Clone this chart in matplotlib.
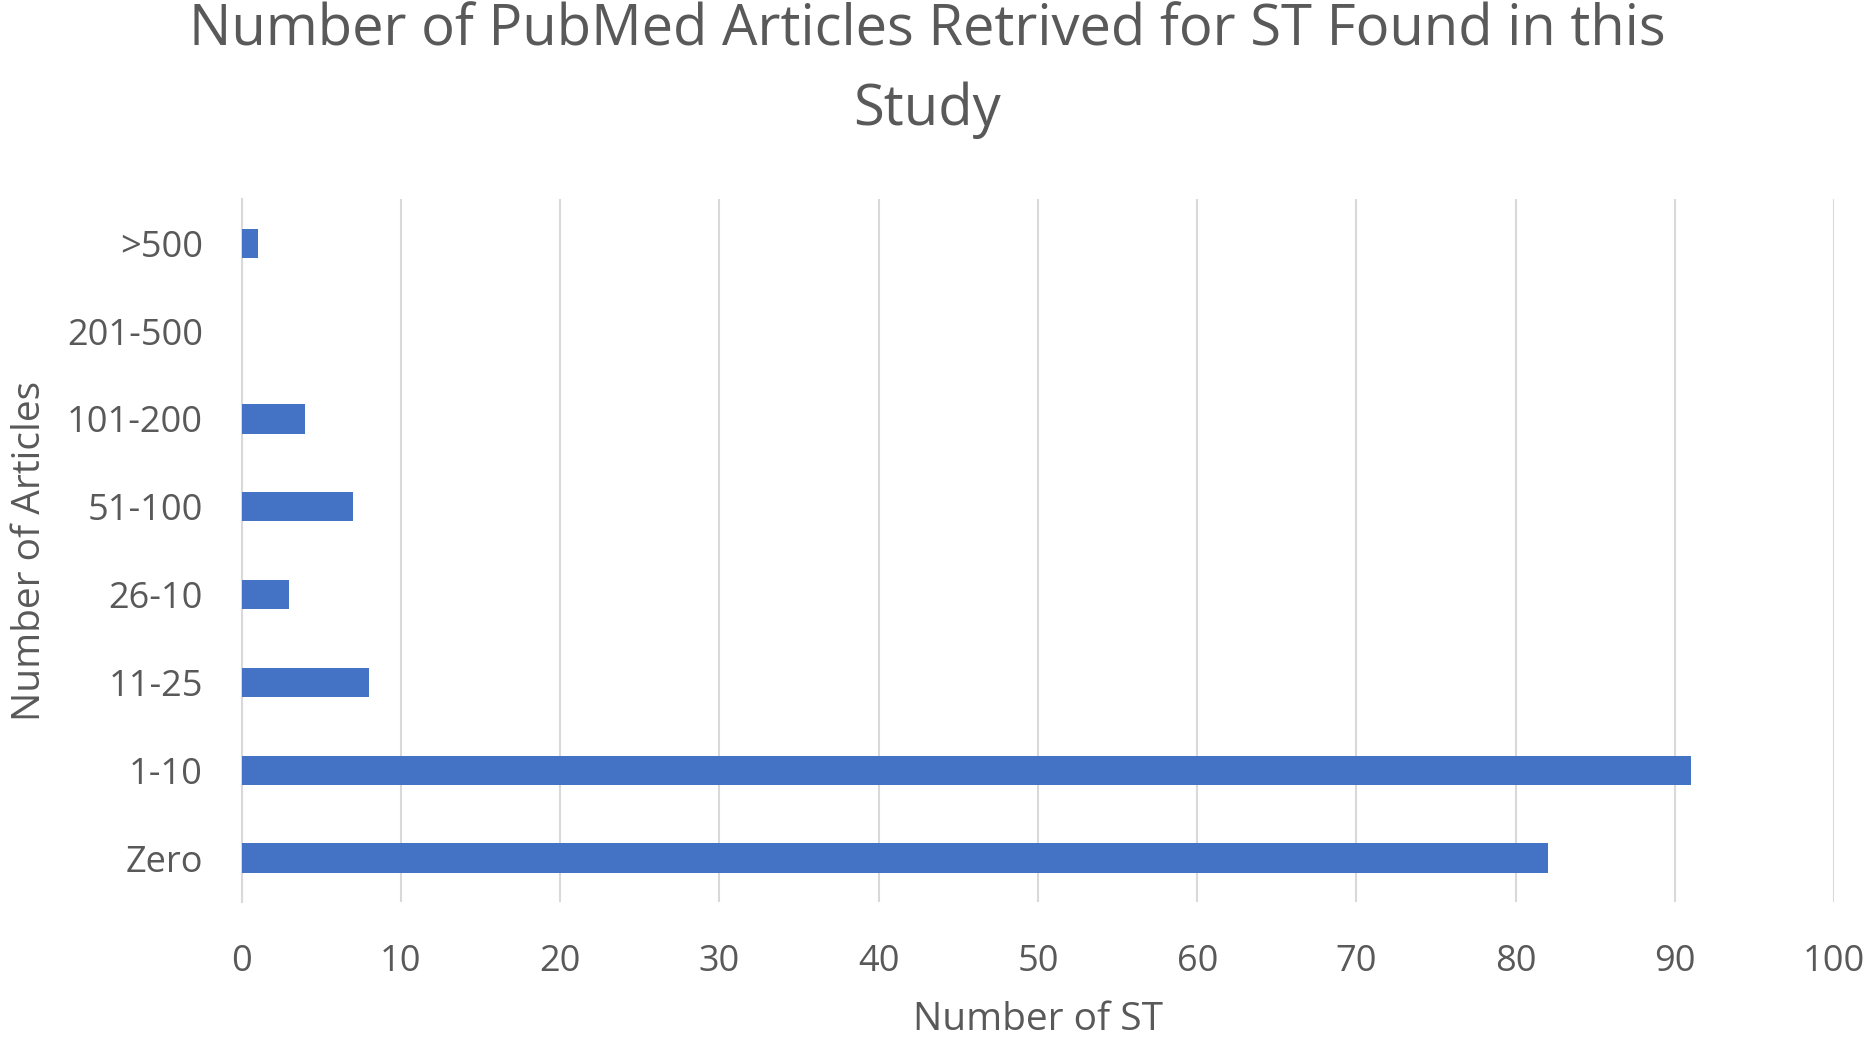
import matplotlib
matplotlib.use("Agg")
import matplotlib.pyplot as plt

categories = ["Zero", "1-10", "11-25", "26-10", "51-100", "101-200", "201-500", ">500"]
values = [82, 91, 8, 3, 7, 4, 0, 1]
xticks = [0, 10, 20, 30, 40, 50, 60, 70, 80, 90, 100]

plt.rcParams['font.family'] = ['Open Sans', 'DejaVu Sans']
text_color = "#595959"
bar_color = "#4472C4"
grid_color = "#D9D9D9"

fig = plt.figure(figsize=(18.66, 10.38), dpi=100)
ax = fig.add_axes([0.1295, 0.131, 0.8535, 0.677])

ypos = list(range(len(categories)))
ax.barh(ypos, values, height=0.333, color=bar_color, zorder=3)

ax.set_xlim(0, 100)
ax.set_ylim(-0.5, len(categories) - 0.5)
ax.set_xticks(xticks)
ax.set_xticklabels([str(t) for t in xticks])
ax.set_yticks(ypos)
ax.set_yticklabels(categories)

ax.grid(axis='x', color=grid_color, linewidth=1.5, zorder=0)
ax.grid(axis='y', visible=False)
for s in ['top', 'right', 'bottom']:
    ax.spines[s].set_visible(False)
ax.spines['left'].set_color(grid_color)
ax.spines['left'].set_linewidth(1.5)

ax.tick_params(axis='both', length=0, labelsize=26, colors=text_color)
ax.tick_params(axis='x', pad=30)
ax.tick_params(axis='y', pad=28)

ax.set_xlabel("Number of ST", fontsize=28, color=text_color, va='center')
ax.xaxis.set_label_coords(0.5, -0.168)
ax.set_ylabel("Number of Articles", fontsize=28, color=text_color, va='center')
ax.yaxis.set_label_coords(-0.1328, 0.5)

fig.text(0.497, 0.970, "Number of PubMed Articles Retrived for ST Found in this",
         ha='center', va='center', fontsize=40.4, color=text_color)
fig.text(0.497, 0.894, "Study",
         ha='center', va='center', fontsize=40.4, color=text_color)

fig.savefig("out.png", dpi=100, facecolor='white')
